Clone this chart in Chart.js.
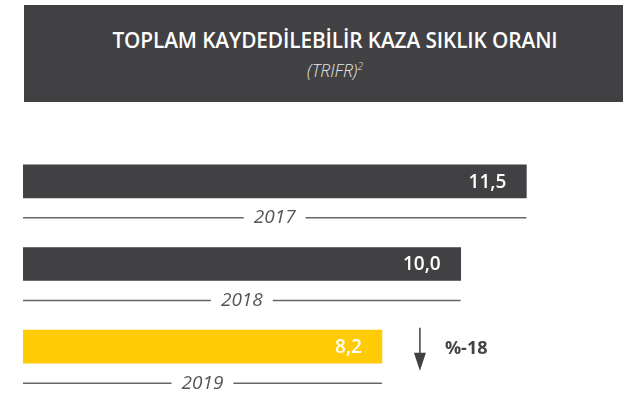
<!DOCTYPE html>
<html lang="tr">
<head>
<meta charset="utf-8">
<script src="https://cdn.jsdelivr.net/npm/chart.js@4.4.0/dist/chart.umd.min.js"></script>
<style>
  html, body { margin: 0; padding: 0; background: #fff; overflow: hidden; }
  body { width: 623px; height: 403px; position: relative; font-family: "Open Sans", sans-serif; }
  #head {
    position: absolute; left: 24px; top: 5px; width: 622px; height: 97px;
    background: #414042; text-align: center;
  }
  #head h1 {
    position: absolute; left: 0; right: 0; top: 21px; margin: 0;
    font-size: 20.8px; font-weight: 600; color: #fff; line-height: 28px; letter-spacing: -0.1px;
  }
  #head p {
    position: absolute; left: 0; right: 0; top: 53px; margin: 0;
    font-size: 17.5px; font-style: italic; font-weight: 300; color: #e6e6e6; line-height: 24px;
  }
  #head sup { font-size: 10px; vertical-align: 7px; line-height: 0; }
  #wrap { position: absolute; left: 0; top: 0; width: 623px; height: 403px; }
</style>
</head>
<body>
<div id="wrap"><canvas id="chart" width="623" height="403"></canvas></div>
<div id="head">
  <h1>TOPLAM KAYDEDİLEBİLİR KAZA SIKLIK ORANI</h1>
  <p>(TRIFR)<sup>2</sup></p>
</div>
<script>
const years = ['2017', '2018', '2019'];
const trifr = [11.5, 10.0, 8.2];
const barColors = ['#414042', '#414042', '#FFCB05'];

const fmt = v => v.toFixed(1).replace('.', ',');

// value inside each bar, year label on a rule under it, change arrow beside the last bar
const barLabels = {
  id: 'barLabels',
  afterDatasetsDraw(chart) {
    const ctx = chart.ctx;
    const bars = chart.getDatasetMeta(0).data;
    ctx.save();
    bars.forEach((bar, i) => {
      const left = bar.base;
      const right = bar.x;
      const bottom = bar.y + bar.height / 2;

      ctx.fillStyle = '#fff';
      ctx.font = '600 19px "Open Sans"';
      ctx.textAlign = 'right';
      ctx.textBaseline = 'middle';
      ctx.fillText(fmt(trifr[i]), right - 20, bar.y + 1);

      const ly = bottom + 20;
      const cx = (left + right) / 2;
      ctx.font = 'italic 19px "Open Sans"';
      ctx.textAlign = 'center';
      ctx.fillStyle = '#555';
      ctx.fillText(years[i], cx, ly);
      const half = ctx.measureText(years[i]).width / 2 + 10;
      ctx.strokeStyle = '#666';
      ctx.lineWidth = 1.5;
      ctx.beginPath();
      ctx.moveTo(left, ly);
      ctx.lineTo(cx - half, ly);
      ctx.moveTo(cx + half, ly);
      ctx.lineTo(right, ly);
      ctx.stroke();
    });

    const last = bars[bars.length - 1];
    const n = trifr.length;
    const change = Math.round((trifr[n - 1] - trifr[n - 2]) / trifr[n - 2] * 100);
    const ax = last.x + 38;
    ctx.strokeStyle = '#414042';
    ctx.fillStyle = '#414042';
    ctx.lineWidth = 1.5;
    ctx.beginPath();
    ctx.moveTo(ax, last.y - 19);
    ctx.lineTo(ax, last.y + 8);
    ctx.stroke();
    ctx.beginPath();
    ctx.moveTo(ax - 6, last.y + 6);
    ctx.lineTo(ax + 6, last.y + 6);
    ctx.lineTo(ax, last.y + 24);
    ctx.closePath();
    ctx.fill();

    ctx.fillStyle = '#444';
    ctx.font = 'bold 18px "Open Sans"';
    ctx.textAlign = 'left';
    ctx.fillText('%' + change, ax + 25, last.y + 2);
    ctx.restore();
  }
};

new Chart(document.getElementById('chart'), {
  type: 'bar',
  data: {
    labels: years,
    datasets: [{
      data: trifr,
      backgroundColor: barColors,
      barThickness: 33,
      borderWidth: 0
    }]
  },
  options: {
    indexAxis: 'y',
    responsive: false,
    animation: false,
    layout: { padding: { left: 23, right: 31, top: 140, bottom: 15 } },
    scales: {
      x: { display: false, min: 0, max: 13 },
      y: { display: false }
    },
    plugins: {
      legend: { display: false },
      tooltip: { enabled: false }
    }
  },
  plugins: [barLabels]
});
</script>
</body>
</html>
